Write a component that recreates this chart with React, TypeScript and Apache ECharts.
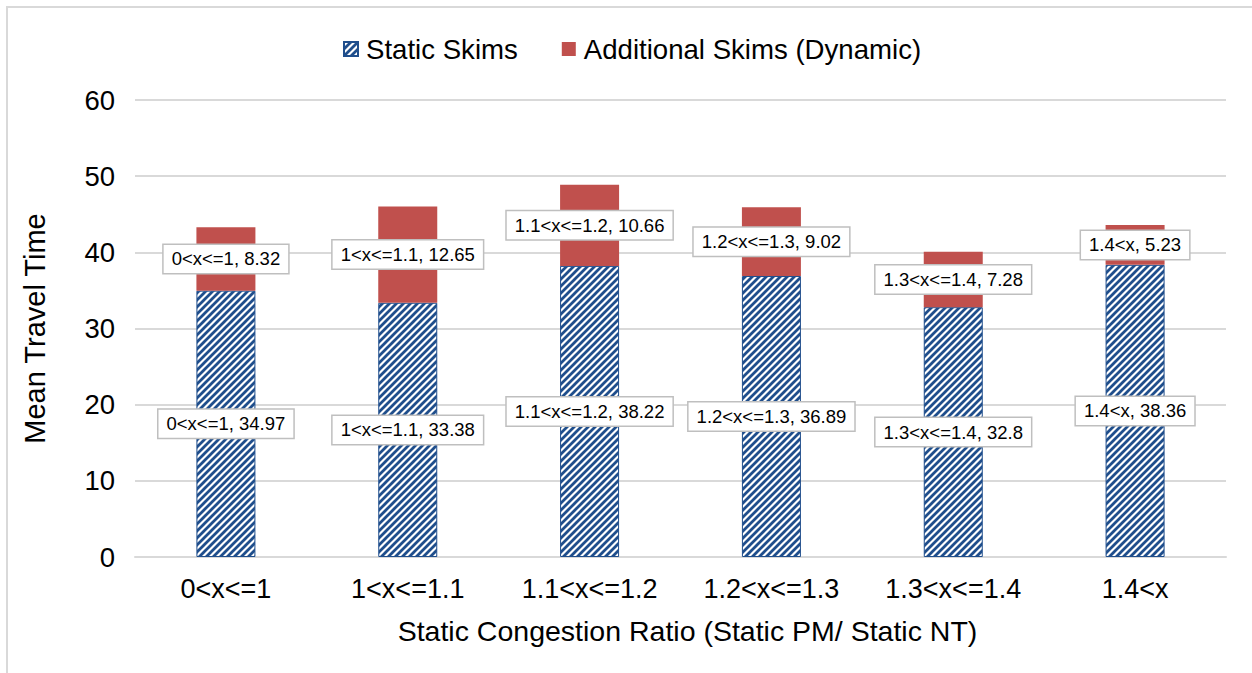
import React, { useEffect, useRef } from "react";
import * as echarts from "echarts";

const categories = ["0<x<=1", "1<x<=1.1", "1.1<x<=1.2", "1.2<x<=1.3", "1.3<x<=1.4", "1.4<x"];
const staticSkims = [34.97, 33.38, 38.22, 36.89, 32.8, 38.36];
const additionalSkims = [8.32, 12.65, 10.66, 9.02, 7.28, 5.23];
const seriesNames = ["Static Skims", "Additional Skims (Dynamic)"];
const yTicks = { min: 0, max: 60, interval: 10 };
const xAxisTitle = "Static Congestion Ratio (Static PM/ Static NT)";
const yAxisTitle = "Mean Travel Time";

const FONT = "'Liberation Sans', Arial, sans-serif";
const BLUE = "#1F4E8C";
const RED = "#C0504D";

function makeHatch(): HTMLCanvasElement {
  const c = document.createElement("canvas");
  const s = 7;
  c.width = s;
  c.height = s;
  const ctx = c.getContext("2d")!;
  ctx.fillStyle = "#ffffff";
  ctx.fillRect(0, 0, s, s);
  ctx.strokeStyle = BLUE;
  ctx.lineWidth = 2.8;
  ctx.lineCap = "square";
  const seg = (x1: number, y1: number, x2: number, y2: number) => {
    ctx.beginPath();
    ctx.moveTo(x1, y1);
    ctx.lineTo(x2, y2);
    ctx.stroke();
  };
  seg(-1, s + 1, s + 1, -1);
  seg(-2, 2, 2, -2);
  seg(s - 2, s + 2, s + 2, s - 2);
  return c;
}

const labelStyle = {
  show: true,
  position: "inside",
  formatter: (p: any) => `${p.name}, ${p.value}`,
  backgroundColor: "#ffffff",
  borderColor: "#bfbfbf",
  borderWidth: 1.5,
  padding: [5, 8, 4, 8],
  fontSize: 18.5,
  fontFamily: FONT,
  color: "#000000",
};

export default function App() {
  const ref = useRef<HTMLDivElement>(null);
  useEffect(() => {
    if (!ref.current) return;
    const chart = echarts.init(ref.current, null, { renderer: "svg" });
    const hatch = makeHatch();
    chart.setOption({
      animation: false,
      backgroundColor: "#ffffff",
      textStyle: { fontFamily: FONT },
      graphic: [
        {
          type: "rect",
          shape: { x: 7, y: 7, width: 1300, height: 720 },
          style: { fill: "none", stroke: "#d9d9d9", lineWidth: 2 },
          silent: true,
        },
      ],
      legend: {
        top: 30,
        left: 338,
        itemWidth: 14,
        itemHeight: 14,
        itemGap: 44,
        icon: "rect",
        textStyle: { fontSize: 27.6, fontFamily: FONT, color: "#000", padding: [0, 0, 0, 3] },
        data: seriesNames,
      },
      grid: { left: 135, right: 26, top: 100, bottom: 116, containLabel: false },
      xAxis: {
        type: "category",
        data: categories,
        axisLine: { show: true, lineStyle: { color: "#d9d9d9", width: 2 } },
        axisTick: { show: false },
        axisLabel: { fontSize: 27, fontFamily: FONT, color: "#000", margin: 18 },
        name: xAxisTitle,
        nameLocation: "middle",
        nameGap: 59,
        nameTextStyle: { fontSize: 28.5, fontFamily: FONT, color: "#000", padding: [0, 0, 0, 14] },
      },
      yAxis: {
        type: "value",
        min: yTicks.min,
        max: yTicks.max,
        interval: yTicks.interval,
        axisLine: { show: false },
        axisTick: { show: false },
        splitLine: { lineStyle: { color: "#d9d9d9", width: 2 } },
        axisLabel: { fontSize: 27.5, fontFamily: FONT, color: "#000", margin: 20 },
        name: yAxisTitle,
        nameLocation: "middle",
        nameGap: 86,
        nameTextStyle: { fontSize: 29, fontFamily: FONT, color: "#000" },
      },
      series: [
        {
          name: seriesNames[0],
          type: "bar",
          stack: "total",
          barWidth: 59,
          data: staticSkims,
          itemStyle: {
            color: { image: hatch, repeat: "repeat" },
            borderColor: BLUE,
            borderWidth: 1,
          },
          label: labelStyle,
        },
        {
          name: seriesNames[1],
          type: "bar",
          stack: "total",
          barWidth: 59,
          data: additionalSkims,
          itemStyle: { color: RED },
          label: labelStyle,
        },
      ],
    });
    return () => chart.dispose();
  }, []);
  return (
    <div
      ref={ref}
      style={{ position: "fixed", left: 0, top: 0, width: 1252, height: 673 }}
    />
  );
}
